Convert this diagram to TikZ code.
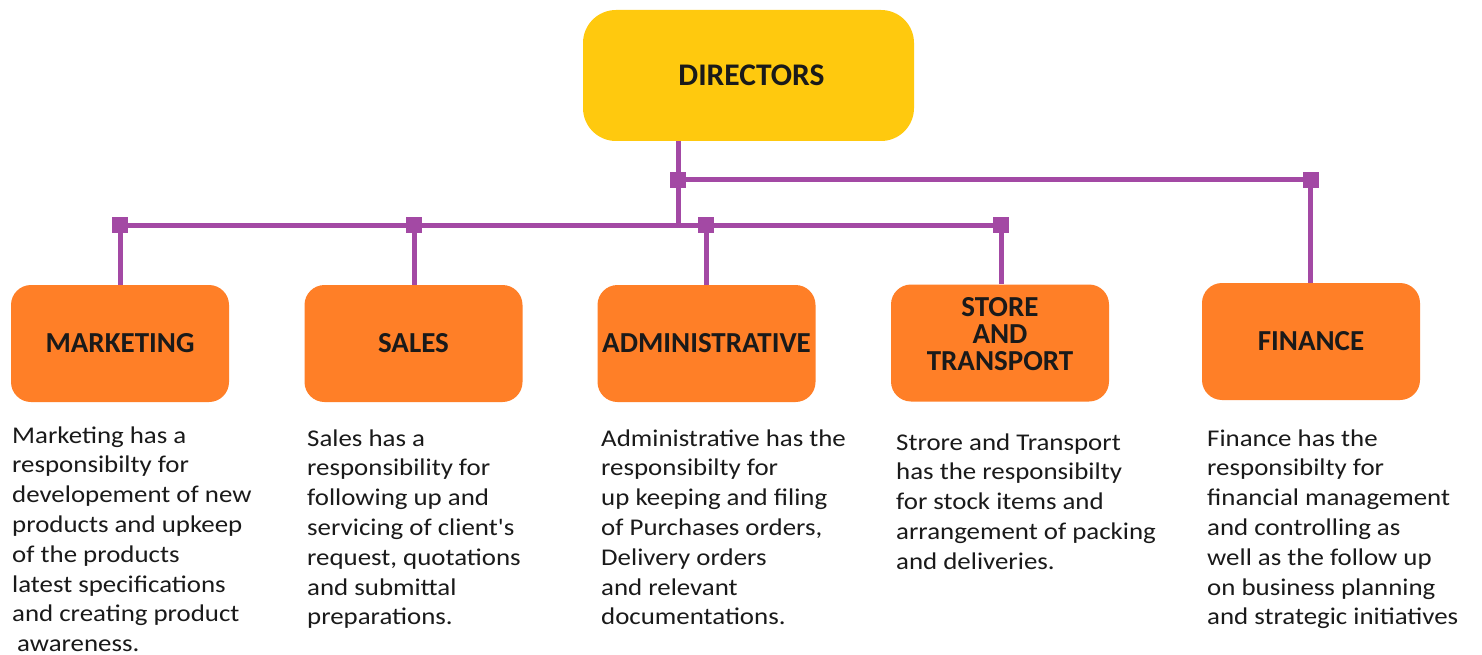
\documentclass[tikz,border=0pt]{standalone}
\usepackage{fontspec}
\setmainfont{Carlito}
\newfontfamily\descfont[FakeStretch=1.12]{Carlito}
\definecolor{dirfill}{HTML}{FFC90E}
\definecolor{depfill}{HTML}{FF7F27}
\definecolor{conncol}{HTML}{A349A4}
\definecolor{txt}{HTML}{1A1A1A}
\newcommand{\desctext}[1]{\parbox[t]{300pt}{\descfont\fontsize{24}{29.8}\selectfont\raggedright #1}}
\begin{document}
\begin{tikzpicture}[x=1pt,y=-1pt,
  dirbox/.style={fill=dirfill, draw=none, rounded corners=33pt, minimum width=331pt, minimum height=131pt, inner sep=0pt, text=txt, font=\fontsize{31.5}{29}\selectfont\bfseries},
  deptbox/.style={fill=depfill, draw=none, rounded corners=20pt, minimum width=218pt, minimum height=117pt, inner sep=0pt, text=txt, font=\fontsize{29}{27}\selectfont\bfseries, align=center},
  deptlabel/.style={inner sep=0pt, text=txt, font=\fontsize{29}{27}\selectfont\bfseries, align=center},
  conn/.style={draw=conncol, line width=5pt},
  marker/.style={fill=conncol, draw=none, minimum size=16pt, inner sep=0pt, shape=rectangle},
  desc/.style={inner sep=0pt, anchor=base west, text=txt}]
\useasboundingbox (0,0) rectangle (1482,655);
\fill[white] (0,0) rectangle (1482,655);

% boxes
\node[dirbox] (dir) at (748.5,75.5) {\hspace*{6pt}DIRECTORS};
\node[deptbox] (mkt) at (120,343.5) {MARKETING};
\node[deptbox] (sal) at (413.5,343.5) {SALES};
\node[deptbox] (adm) at (706.5,343.5) {ADMINISTRATIVE};
\node[deptbox] (sto) at (1000,343) {};
\node[deptlabel, yshift=9pt] (stolbl) at (sto.center) {STORE\\AND\\TRANSPORT};
\node[deptbox] (fin) at (1311,341.5) {FINANCE};

% junction coordinates
\coordinate (j0) at (678,180);
\coordinate (j1) at (1310.5,180);
\coordinate (jd) at (678,225);
\coordinate (jm) at (120,225);
\coordinate (js) at (414,225);
\coordinate (ja) at (706,225);
\coordinate (jt) at (1001,225);

% connectors
\draw[conn] (dir.south -| j0) -- (jd);
\draw[conn] (j0) -- (j1) -- (fin.north -| j1);
\draw[conn] (jm) -- (jt);
\draw[conn] (jm) -- (mkt.north -| jm);
\draw[conn] (js) -- (sal.north -| js);
\draw[conn] (ja) -- (adm.north -| ja);
\draw[conn] (jt) -- (sto.north -| jt);

% markers
\node[marker] (k0) at (j0) {};
\node[marker] (k1) at (j1) {};
\node[marker] (km) at (jm) {};
\node[marker] (ks) at (js) {};
\node[marker] (ka) at (ja) {};
\node[marker] (kt) at (jt) {};

% descriptions
\node[desc] (dmkt) at (12,443) {\desctext{Marketing has a\\responsibilty for\\developement of new\\products and upkeep\\of the products\\latest specifications\\and creating product\\\hspace*{5pt}awareness.}};
\node[desc] (dsal) at (307,446) {\desctext{Sales has a\\responsibility for\\following up and\\servicing of client's\\request, quotations\\and submittal\\preparations.}};
\node[desc] (dadm) at (601,446) {\desctext{Administrative has the\\responsibilty for\\up keeping and filing\\of Purchases orders,\\Delivery orders\\and relevant\\documentations.}};
\node[desc] (dsto) at (896,450) {\desctext{Strore and Transport\\has the responsibilty\\for stock items and\\arrangement of packing\\and deliveries.}};
\node[desc] (dfin) at (1207,446) {\desctext{Finance has the\\responsibilty for\\financial management\\and controlling as\\well as the follow up\\on business planning\\and strategic initiatives}};
\end{tikzpicture}
\end{document}
